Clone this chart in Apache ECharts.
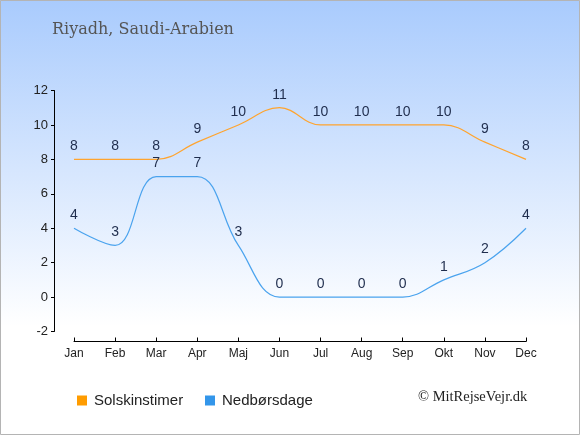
<!DOCTYPE html>
<html>
<head>
<meta charset="utf-8">
<script src="https://cdn.jsdelivr.net/npm/echarts@6/dist/echarts.min.js"></script>
<style>
html,body{margin:0;padding:0;background:#fff;}
#c{width:580px;height:435px;}
</style>
</head>
<body>
<div id="c"></div>
<script>
var months = ['Jan','Feb','Mar','Apr','Maj','Jun','Jul','Aug','Sep','Okt','Nov','Dec'];
var sunHours = [8,8,8,9,10,11,10,10,10,10,9,8];
var rainDays = [4,3,7,7,3,0,0,0,0,1,2,4];
var titleText = 'Riyadh, Saudi-Arabien';
var sunName = 'Solskinstimer';
var rainName = 'Nedbørsdage';
var copyright = '© MitRejseVejr.dk';

var chart = echarts.init(document.getElementById('c'));
var labelStyle = {show:true, position:'top', distance:6, color:'#1f2d4d', fontSize:14, fontFamily:'Liberation Sans'};
var legendText = {fontFamily:'Liberation Sans', fontSize:15, color:'#222', padding:[0,0,0,2]};
chart.setOption({
  backgroundColor: new echarts.graphic.LinearGradient(0,0,0,1,[
    {offset:0, color:'#a9cbfd'},
    {offset:0.75, color:'#ffffff'},
    {offset:1, color:'#ffffff'}
  ]),
  animation:false,
  title:{text:titleText, left:47, top:17, textStyle:{fontFamily:'DejaVu Serif', fontSize:16, fontWeight:'normal', color:'#555555'}},
  graphic:[
    {type:'rect', shape:{x:0.5,y:0.5,width:579,height:434}, style:{fill:'none', stroke:'#b4b4b4', lineWidth:1}, silent:true},
    {type:'text', left:418, top:390, style:{text:copyright, font:'14.5px "Liberation Serif"', fill:'#222222'}}
  ],
  legend:[
    {data:[sunName], left:77, top:393, padding:0, itemWidth:10, itemHeight:10, icon:'rect', textStyle:legendText},
    {data:[rainName], left:205, top:393, padding:0, itemWidth:10, itemHeight:10, icon:'rect', textStyle:legendText}
  ],
  grid:{left:74, right:54, top:90.5, bottom:103.5, containLabel:false},
  xAxis:{type:'category', data:months, boundaryGap:false, offset:10,
    axisLine:{onZero:false, lineStyle:{color:'#000', width:1}},
    axisTick:{inside:true, length:4, lineStyle:{color:'#000'}},
    axisLabel:{color:'#222', fontFamily:'Liberation Sans', fontSize:12, margin:6},
    splitLine:{show:false}},
  yAxis:{type:'value', min:-2, max:12, interval:2, offset:20,
    axisLine:{show:true, lineStyle:{color:'#000', width:1}},
    axisTick:{show:true, length:3, lineStyle:{color:'#000'}},
    axisLabel:{color:'#222', fontFamily:'Liberation Sans', fontSize:13, margin:6},
    splitLine:{show:false}},
  series:[
    {name:sunName, type:'line', data:sunHours, smooth:0.4, symbol:'circle', symbolSize:0.01, showSymbol:true,
     lineStyle:{color:'#ffa42e', width:1.2}, itemStyle:{color:'#ff9c00'}, label:labelStyle},
    {name:rainName, type:'line', data:rainDays, smooth:0.4, symbol:'circle', symbolSize:0.01, showSymbol:true,
     lineStyle:{color:'#4aa3ee', width:1.2}, itemStyle:{color:'#3396ea'}, label:labelStyle}
  ]
});
</script>
</body>
</html>
